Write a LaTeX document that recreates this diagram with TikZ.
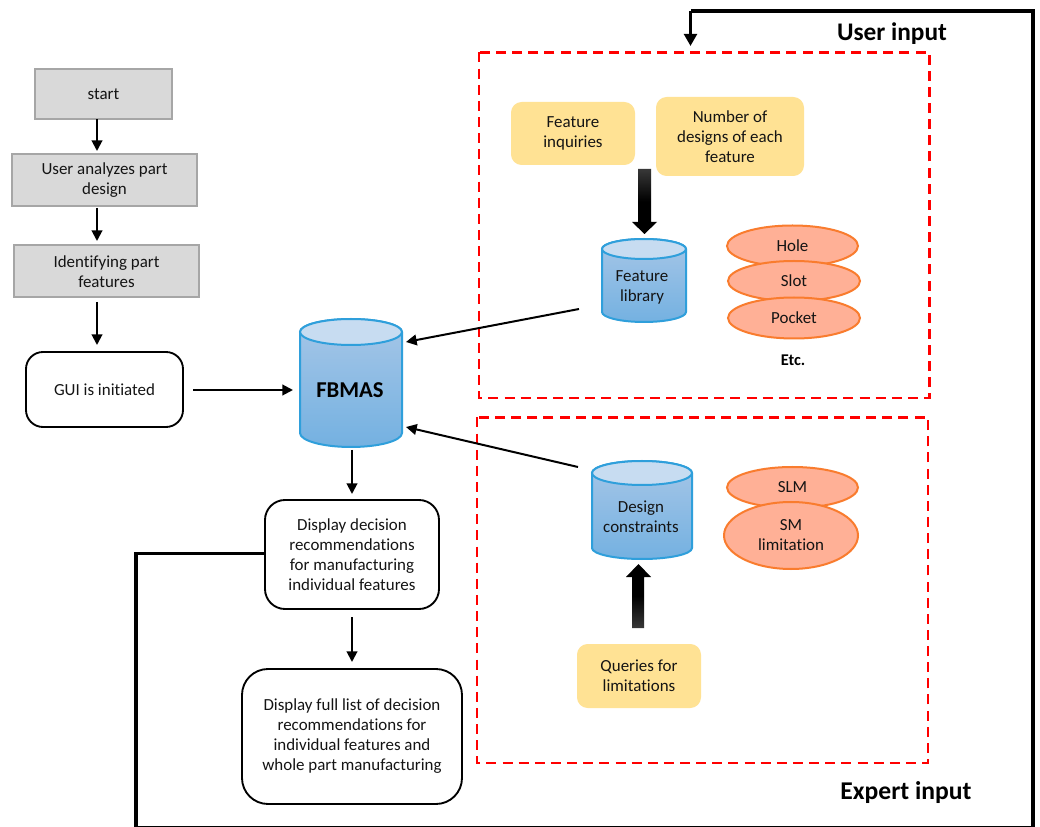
\documentclass[tikz,border=0pt]{standalone}
\usepackage{fontspec}
\setmainfont{Carlito}[Ligatures=NoCommon]
\usetikzlibrary{arrows.meta,shapes.geometric}
\definecolor{txt}{HTML}{141414}
\definecolor{graybox}{HTML}{D9D9D9}
\definecolor{grayedge}{HTML}{A6A6A6}
\definecolor{yel}{HTML}{FFE294}
\definecolor{orfill}{HTML}{FFB096}
\definecolor{oredge}{HTML}{F97C2E}
\definecolor{cyledge}{HTML}{2F9FDB}
\definecolor{cyltop}{HTML}{C7DCF1}
\definecolor{cylhi}{HTML}{A6C6E7}
\definecolor{cyllo}{HTML}{74B1E1}
\tikzset{
  x=0.75pt,y=-0.75pt,
  sz/.style 2 args={minimum width=#1*0.75pt,minimum height=#2*0.75pt},
  base/.style={inner sep=0pt,outer sep=0pt,align=center,text=txt,font=\fontsize{12.7}{15}\selectfont},
  graystep/.style={base,rectangle,draw=grayedge,fill=graybox,line width=1.5pt},
  roundstep/.style={base,rectangle,draw=black,fill=white,line width=1.4pt,rounded corners=#1*0.75pt},
  yelbox/.style={base,rectangle,fill=yel,rounded corners=8pt},
  oval/.style={base,ellipse,draw=oredge,fill=orfill,line width=1.5pt},
  cyllabel/.style={base},
  bold/.style={inner sep=0pt,outer sep=0pt,text=black,font=\fontsize{#1}{#1}\selectfont\bfseries},
  arr/.style={draw=black,line width=1.5pt,-{Triangle[width=8pt,length=8pt]}},
  thickline/.style={draw=black,line width=2.7pt,line join=miter},
  reddash/.style={draw=red,line width=1.6pt,dash pattern=on 7.5pt off 4.6pt},
}
\newcommand{\cyl}[6]{% cx, side top y(center of ellipse), rx, ry, side bottom y, bottom y
  \pgfmathsetmacro{\rxpt}{#3*0.75}
  \pgfmathsetmacro{\rypt}{#4*0.75}
  \pgfmathsetmacro{\rbpt}{(#6-#5)*0.75}
  \path[top color=cylhi,bottom color=cyllo,draw=cyledge,line width=1.5pt]
    (#1-#3,#2) -- (#1-#3,#5) arc[start angle=180,end angle=360,x radius=\rxpt pt,y radius=\rbpt pt]
    -- (#1+#3,#2) arc[start angle=0,end angle=180,x radius=\rxpt pt,y radius=\rypt pt] -- cycle;
  \path[fill=cyltop,draw=cyledge,line width=1.5pt]
    (#1-#3,#2) arc[start angle=180,end angle=540,x radius=\rxpt pt,y radius=\rypt pt] -- cycle;
}
\begin{document}
\begin{tikzpicture}
\useasboundingbox (0,0) rectangle (1040,827);
\fill[white] (0,0) rectangle (1040,827);

% red dashed regions
\coordinate (r1a) at (479,52.5);
\coordinate (r1b) at (929.5,398);
\coordinate (r2a) at (477,417.5);
\coordinate (r2b) at (928,763);
\draw[reddash] (r1a) rectangle (r1b);
\draw[reddash] (r2a) rectangle (r2b);

% left column
\node[graystep,sz={137}{50}] (start) at (103.5,94) {start};
\node[graystep,sz={185}{52}] (analyze) at (104.5,180) {User analyzes part\\design};
\node[graystep,sz={185}{52}] (identify) at (106.5,271.5) {Identifying part\\features};
\node[roundstep=17,sz={157}{75}] (gui) at (104.5,389.5) {GUI is initiated};

% cylinders
\cyl{351}{332}{51}{13}{433}{447}
\node[bold=17,inner sep=0pt] (fbmas) at (350,390) {FBMAS};
\cyl{644}{249}{42}{10}{312}{322}
\node[cyllabel] (flib) at (642,287) {Feature\\library};
\cyl{642}{473}{50}{12}{548}{559}
\node[cyllabel] (dcon) at (641,517) {Design\\constraints};

% result boxes
\node[roundstep=20,sz={174}{109}] (disp) at (352,554.5) {\fontsize{12.7}{15.2}\selectfont Display decision\\recommendations\\for manufacturing\\individual features};
\node[roundstep=26,sz={220}{135}] (full) at (352,736.5) {\fontsize{12.7}{15.6}\selectfont Display full list of decision\\recommendations for\\individual features and\\whole part manufacturing};

% yellow boxes
\node[yelbox,sz={124}{63}] (inq) at (573,133.5) {Feature\\inquiries};
\node[yelbox,sz={148}{79}] (num) at (730,136.5) {\fontsize{12.7}{16}\selectfont Number of\\designs of each\\feature};
\node[yelbox,sz={124}{64}] (query) at (639,676) {Queries for\\limitations};

% ovals
\node[oval,sz={131}{41}] (hole) at (792.5,246) {Hole};
\node[oval,sz={132}{40}] (slot) at (794,281) {Slot};
\node[oval,sz={132}{41}] (pocket) at (794,318) {Pocket};
\node[bold=12.3] (etc) at (793,360) {Etc.};
\node[oval,sz={131}{41}] (slm) at (792.5,487.5) {SLM};
\node[oval,sz={134}{67}] (smlim) at (791,535.5) {SM\\limitation};

% block arrows
\shade[top color=black!78,bottom color=black,middle color=black]
  (638,169) -- (651,169) -- (651,222) -- (657,222) -- (644.5,234) -- (632,222) -- (638,222) -- cycle;
\shade[top color=black,bottom color=black!78,middle color=black]
  (632,628) -- (644,628) -- (644,577) -- (651,577) -- (638.5,564) -- (626,577) -- (632,577) -- cycle;

% thin connectors
\coordinate (a1s) at (97,119.5);  \coordinate (a1e) at (97,151);
\coordinate (a2s) at (97,208);    \coordinate (a2e) at (97,241);
\coordinate (a3s) at (97,302);    \coordinate (a3e) at (97,345);
\coordinate (a4s) at (193,390);   \coordinate (a4e) at (293,390);
\coordinate (a5s) at (352,450);   \coordinate (a5e) at (352,494);
\coordinate (a6s) at (352,617);   \coordinate (a6e) at (352,662);
\coordinate (a7s) at (579,309);   \coordinate (a7e) at (406,342);
\coordinate (a8s) at (578,467);   \coordinate (a8e) at (406,427);
\draw[arr] (a1s) -- (a1e);
\draw[arr] (a2s) -- (a2e);
\draw[arr] (a3s) -- (a3e);
\draw[arr] (a4s) -- (a4e);
\draw[arr] (a5s) -- (a5e);
\draw[arr] (a6s) -- (a6e);
\draw[arr] (a7s) -- (a7e);
\draw[arr] (a8s) -- (a8e);

% thick feedback line
\coordinate (fb1) at (136,553.5);
\coordinate (fb2) at (136,828);
\coordinate (fb3) at (1033,828);
\coordinate (fb4) at (1033,11);
\coordinate (fb5) at (690.5,11);
\coordinate (fb6) at (690.5,46);
\draw[thickline] (disp.west |- fb1) -- (fb1) -- (fb2) -- (fb3) -- (fb4) -- (fb5);
\draw[draw=black,line width=2.7pt,-{Triangle[width=9.5pt,length=9pt]}] (fb5) -- (fb6);

% side labels
\node[bold=19] (uinp) at (892,33.5) {User input};
\node[bold=19.2] (einp) at (906,792.5) {Expert input};
\end{tikzpicture}
\end{document}
